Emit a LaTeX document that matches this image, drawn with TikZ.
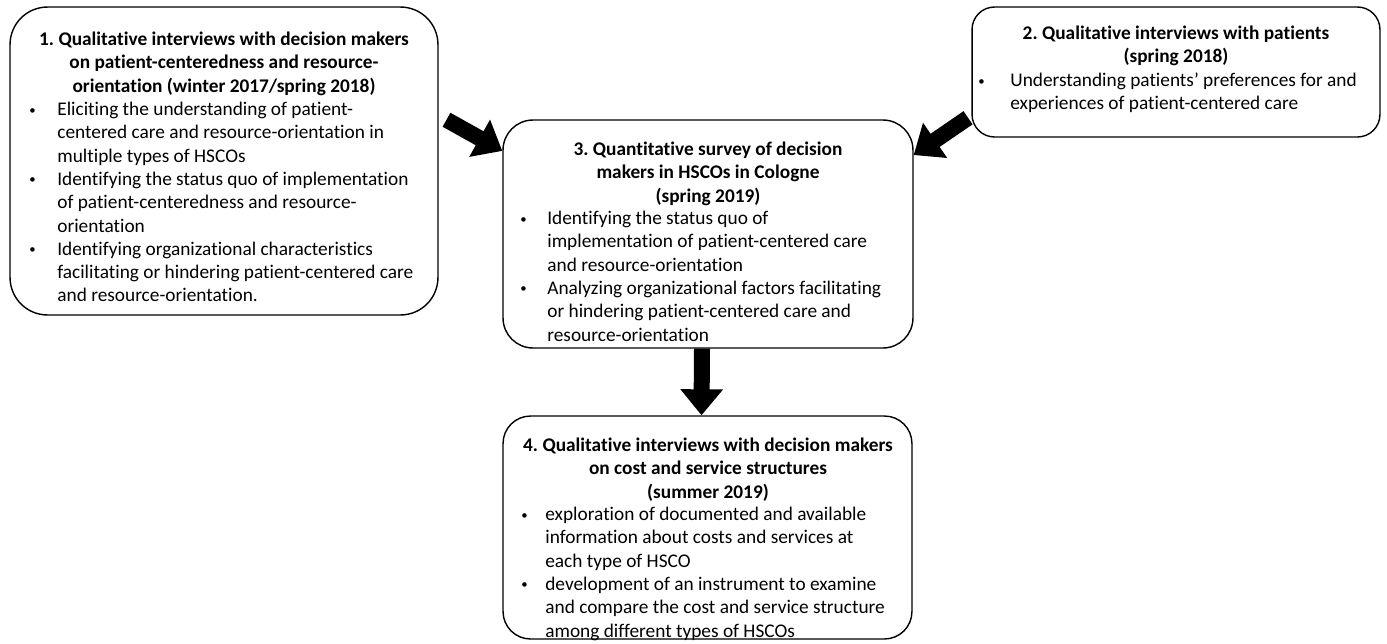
\documentclass[tikz,border=0pt]{standalone}
\usepackage{fontspec}
\setmainfont{Carlito}[Ligatures=NoCommon]
\usepackage{graphicx}
\usepackage{tikz}
\usetikzlibrary{arrows.meta}

\frenchspacing
\newcommand{\bulmark}[1][0.56cm]{\makebox[#1][l]{\hspace{0.6pt}\raisebox{0.9pt}{\scalebox{0.66}{\textbullet}}}}
\newcommand{\bulskip}[1][0.56cm]{\hspace*{#1}}

\tikzset{
  panel/.style={draw, line width=0.8pt, rounded corners=#1},
  panel/.default=0.6cm,
  head/.style={font=\fontsize{11}{13.25}\selectfont\bfseries, inner sep=0pt, align=center, anchor=north},
  items/.style={font=\fontsize{11}{13.25}\selectfont, inner sep=0pt, align=left, anchor=north west},
  bigarrow/.style={line width=0.32cm, -{Triangle[length=0.52cm, width=0.82cm]}}
}

\begin{document}
\begin{tikzpicture}[x=0.02cm, y=-0.02cm]
\useasboundingbox (0,0) rectangle (1387,643);

\node[panel=0.75cm, minimum width=8.56cm, minimum height=6.16cm] (s1) at (224,161) {};
\node[panel=0.45cm, minimum width=8.16cm, minimum height=2.6cm] (s2) at (1176,72) {};
\node[panel=0.6cm, minimum width=8.2cm, minimum height=4.56cm] (s3) at (708,234) {};
\node[panel=0.55cm, minimum width=8.18cm, minimum height=4.46cm] (s4) at (707.5,527.5) {};

\node[head] (s1head) at (224,29) {\strut 1. Qualitative interviews with decision makers\\
on patient-centeredness and resource-\\
orientation (winter 2017/spring 2018)};
\node[items] (s1list) at (28,99) {\strut\bulmark[0.58cm]Eliciting the understanding of patient-\\
\bulskip[0.58cm]centered care and resource-orientation in\\
\bulskip[0.58cm]multiple types of HSCOs\\
\bulmark[0.58cm]Identifying the status quo of implementation\\
\bulskip[0.58cm]of patient-centeredness and resource-\\
\bulskip[0.58cm]orientation\\
\bulmark[0.58cm]Identifying organizational characteristics\\
\bulskip[0.58cm]facilitating or hindering patient-centered care\\
\bulskip[0.58cm]and resource-orientation.};

\node[head] (s2head) at (1176,23) {\strut 2. Qualitative interviews with patients\\
(spring 2018)};
\node[items] (s2list) at (977,70) {\strut\bulmark[0.66cm]Understanding patients’ preferences for and\\
\bulskip[0.66cm]experiences of patient-centered care};

\node[head] (s3head) at (708,139) {\strut 3. Quantitative survey of decision\\
makers in HSCOs in Cologne\\
(spring 2019)};
\node[items] (s3list) at (519,208) {\strut\bulmark Identifying the status quo of\\
\bulskip implementation of patient-centered care\\
\bulskip and resource-orientation\\
\bulmark Analyzing organizational factors facilitating\\
\bulskip or hindering patient-centered care and\\
\bulskip resource-orientation};

\node[head] (s4head) at (708,435) {\strut 4. Qualitative interviews with decision makers\\
on cost and service structures\\
(summer 2019)};
\node[items] (s4list) at (520,504) {\strut\bulmark[0.5cm]exploration of documented and available\\
\bulskip[0.5cm]information about costs and services at\\
\bulskip[0.5cm]each type of HSCO\\
\bulmark[0.5cm]development of an instrument to examine\\
\bulskip[0.5cm]and compare the cost and service structure\\
\bulskip[0.5cm]among different types of HSCOs};

\draw[bigarrow, shorten <=0.18cm] (s1.12) -- (s3.158);
\draw[bigarrow, shorten <=0.08cm] (s2.192) -- (s3.21);
\draw[bigarrow] ([xshift=-0.12cm]s3.south) -- ([xshift=-0.12cm]s4.north);
\end{tikzpicture}
\end{document}
